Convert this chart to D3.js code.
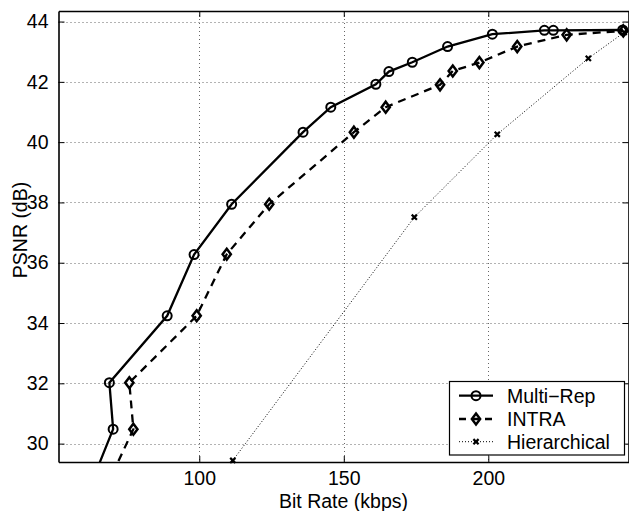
<!DOCTYPE html>
<html>
<head>
<meta charset="UTF-8">
<script src="https://cdn.jsdelivr.net/npm/d3@7"></script>
<style>
  html, body { margin:0; padding:0; background:#fff; }
  svg { display:block; font-family:'Liberation Sans', Arial, sans-serif; }
</style>
</head>
<body>
<svg id="chart" width="629" height="511"></svg>
<script>
// data (kbps, dB)
const multiRep = [
  [64.0,29.0],[70.2,30.48],[68.9,32.02],[88.9,34.24],[98.2,36.27],[111.2,37.94],
  [135.9,40.33],[145.5,41.16],[161.1,41.92],[165.6,42.34],[173.7,42.65],
  [185.9,43.17],[201.4,43.58],[219.4,43.71],[222.5,43.71],[246.5,43.72]
];
const intra = [
  [70.0,29.0],[77.2,30.48],[75.8,32.02],[99.1,34.24],[109.5,36.28],[124.2,37.94],
  [153.5,40.33],[164.5,41.16],[183.3,41.9],[187.7,42.36],[196.9,42.64],
  [210.0,43.17],[227.1,43.56],[246.7,43.69]
];
const hierarchical = [
  [111.6,29.44],[174.4,37.51],[203.1,40.26],[234.6,42.78],[247.0,43.64]
];
const xTicks = [100, 150, 200];
const yTicks = [30, 32, 34, 36, 38, 40, 42, 44];
const seriesNames = ["Multi\u2212Rep", "INTRA", "Hierarchical"];

const L = 58.5, R = 628.5, T = 11, B = 462;
const FS = 19.5;

const x = d3.scaleLinear().domain([51.3, 248.5]).range([L, R]);
const y = d3.scaleLinear().domain([29.39, 44.35]).range([B, T]);

const svg = d3.select("#chart");

svg.append("defs").append("clipPath").attr("id", "plotclip")
  .append("rect").attr("x", L).attr("y", T).attr("width", R - L).attr("height", B - T);

// grid
const grid = svg.append("g").attr("stroke", "#666").attr("stroke-width", 1)
  .attr("stroke-dasharray", "1,3");
grid.selectAll(".gx").data(xTicks).join("line")
  .attr("x1", d => Math.round(x(d)) + 0.5).attr("x2", d => Math.round(x(d)) + 0.5)
  .attr("y1", T).attr("y2", B);
grid.selectAll(".gy").data(yTicks).join("line")
  .attr("y1", d => Math.round(y(d)) + 0.5).attr("y2", d => Math.round(y(d)) + 0.5)
  .attr("x1", L).attr("x2", R);

// axes (matlab style: ticks inside, on all four sides)
const axB = d3.axisBottom(x).tickValues(xTicks).tickSizeInner(-6).tickSizeOuter(0).tickPadding(9);
const axT = d3.axisTop(x).tickValues(xTicks).tickSizeInner(-6).tickSizeOuter(0).tickFormat("");
const axL = d3.axisLeft(y).tickValues(yTicks).tickSizeInner(-6).tickSizeOuter(0).tickPadding(10);
const axR = d3.axisRight(y).tickValues(yTicks).tickSizeInner(-6).tickSizeOuter(0).tickFormat("");

function styleAxis(g) {
  g.select(".domain").attr("stroke", "#000").attr("stroke-width", 1.6);
  g.selectAll(".tick line").attr("stroke", "#000").attr("stroke-width", 1);
  g.selectAll(".tick text").attr("fill", "#000").attr("font-size", FS)
    .attr("font-family", "'Liberation Sans', Arial, sans-serif");
}
svg.append("g").attr("transform", `translate(0,${B})`).call(axB).call(styleAxis);
svg.append("g").attr("transform", `translate(0,${T})`).call(axT).call(styleAxis);
svg.append("g").attr("transform", `translate(${L},0)`).call(axL).call(styleAxis);
svg.append("g").attr("transform", `translate(${R},0)`).call(axR).call(styleAxis);

// axis labels
svg.append("text").attr("x", (L + R) / 2).attr("y", 507.5).attr("text-anchor", "middle")
  .attr("font-size", FS).text("Bit Rate (kbps)");
svg.append("text").attr("transform", "translate(27,230) rotate(-90)").attr("text-anchor", "middle")
  .attr("font-size", FS).text("PSNR (dB)");

const line = d3.line().x(d => x(d[0])).y(d => y(d[1]));
const inside = d => d[1] >= y.domain()[0] - 0.1;

function circle(g, cx, cy) {
  g.append("circle").attr("cx", cx).attr("cy", cy).attr("r", 4.5)
    .attr("fill", "none").attr("stroke", "#000").attr("stroke-width", 2);
}
function diamond(g, cx, cy) {
  const s = 5.5;
  g.append("path").attr("d", `M${cx},${cy - s}L${cx + s * 0.75},${cy}L${cx},${cy + s}L${cx - s * 0.75},${cy}Z`)
    .attr("fill", "none").attr("stroke", "#000").attr("stroke-width", 2.5);
}
function cross(g, cx, cy) {
  const s = 2.6;
  g.append("path").attr("d", `M${cx - s},${cy - s}L${cx + s},${cy + s}M${cx - s},${cy + s}L${cx + s},${cy - s}`)
    .attr("stroke", "#000").attr("stroke-width", 2.2);
}

const series = [
  { data: multiRep, dash: null, width: 2.3, marker: circle },
  { data: intra, dash: "8,6", width: 2.3, marker: diamond },
  { data: hierarchical, dash: "1,2", width: 1, marker: cross }
];

const plot = svg.append("g");
series.forEach(s => {
  plot.append("path").attr("clip-path", "url(#plotclip)").datum(s.data).attr("d", line)
    .attr("fill", "none").attr("stroke", "#000").attr("stroke-width", s.width)
    .attr("stroke-dasharray", s.dash);
  const mg = plot.append("g");
  s.data.filter(inside).forEach(d => s.marker(mg, x(d[0]), y(d[1])));
});

// legend
const lg = svg.append("g");
lg.append("rect").attr("x", 449.5).attr("y", 381.5).attr("width", 175).attr("height", 73.5)
  .attr("fill", "#fff").attr("stroke", "#000").attr("stroke-width", 1.2);
const rowY = [395.7, 419, 441.7];
series.forEach((s, i) => {
  lg.append("line").attr("x1", 459).attr("x2", 493).attr("y1", rowY[i]).attr("y2", rowY[i])
    .attr("stroke", "#000").attr("stroke-width", s.width)
    .attr("stroke-dasharray", s.dash ? (i === 1 ? "7,6" : s.dash) : null);
  s.marker(lg, 476, rowY[i]);
  lg.append("text").attr("x", 507).attr("y", rowY[i] + 7).attr("font-size", FS).text(seriesNames[i]);
});
</script>
</body>
</html>
